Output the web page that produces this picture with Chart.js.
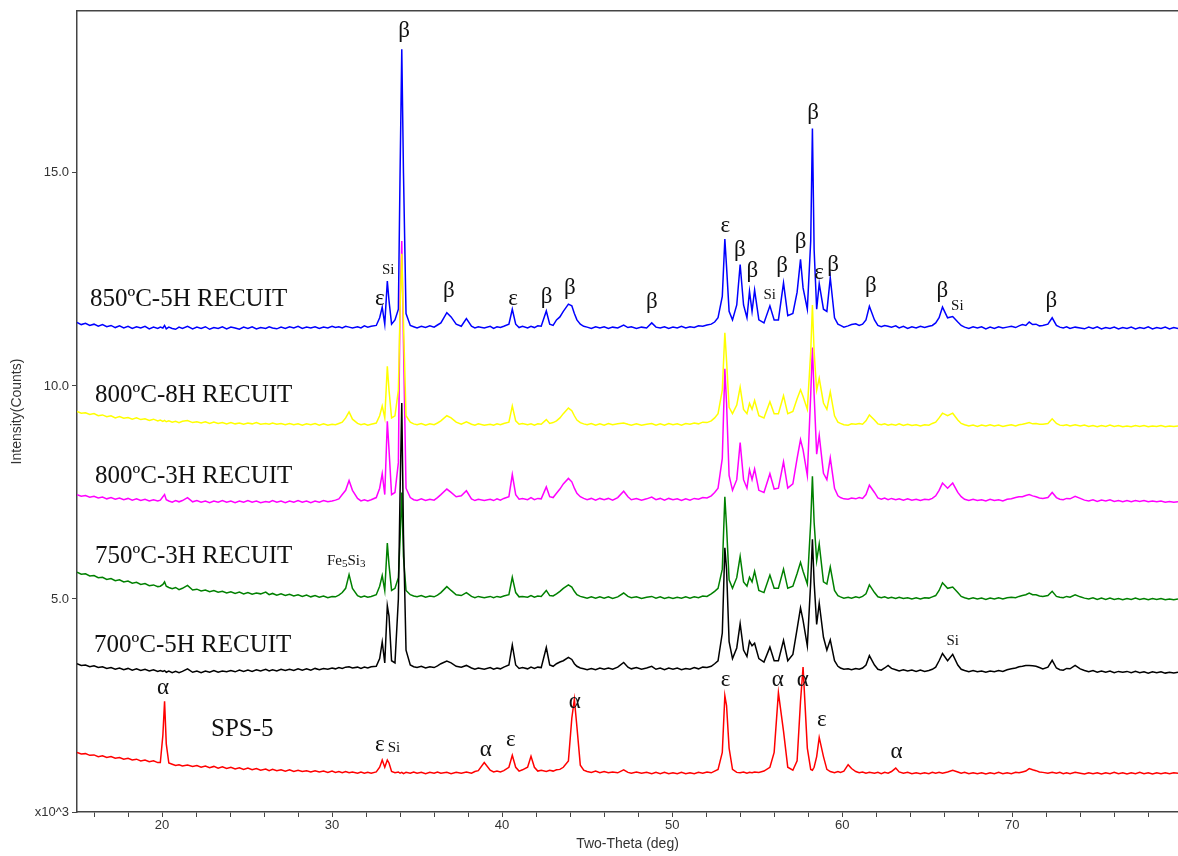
<!DOCTYPE html>
<html>
<head>
<meta charset="utf-8">
<script src="https://cdn.jsdelivr.net/npm/chart.js@4.4.0/dist/chart.umd.min.js"></script>
<style>
  html, body { margin: 0; padding: 0; background: #fff; }
</style>
</head>
<body>
<canvas id="xrd" width="1178" height="856"></canvas>
<script>
// 2-theta grid (deg), shared by all patterns
const twoTheta = [
  15, 15.25, 15.5, 15.75, 16, 16.25, 16.5, 16.75, 17, 17.25,
  17.5, 17.75, 18, 18.25, 18.5, 18.75, 19, 19.25, 19.5, 19.75,
  19.9, 20.05, 20.15, 20.25, 20.4, 20.6, 20.8, 21.0, 21.2, 21.5,
  21.8, 22.05, 22.3, 22.55, 22.8, 23.05, 23.3, 23.55, 23.8, 24.05,
  24.3, 24.55, 24.8, 25.05, 25.3, 25.55, 25.8, 26.1, 26.3, 26.5,
  26.75, 27, 27.25, 27.5, 27.75, 28, 28.25, 28.5, 28.75, 29,
  29.25, 29.5, 29.75, 30, 30.2, 30.4, 30.6, 30.8, 31.0, 31.2,
  31.5, 31.7, 31.9, 32.1, 32.3, 32.6, 32.8, 32.95, 33.1, 33.25,
  33.35, 33.5, 33.7, 33.9, 34.0, 34.1, 34.2, 34.35, 34.6, 34.8,
  35, 35.25, 35.5, 35.75, 36, 36.2, 36.4, 36.75, 37.0, 37.3,
  37.6, 37.9, 38.2, 38.4, 38.6, 38.95, 39.3, 39.5, 39.7, 39.9,
  40.1, 40.4, 40.6, 40.8, 41.0, 41.2, 41.5, 41.7, 41.9, 42.1,
  42.3, 42.6, 42.8, 43.0, 43.2, 43.4, 43.6, 43.9, 44.1, 44.25,
  44.4, 44.6, 44.8, 45, 45.25, 45.5, 45.75, 46, 46.25, 46.5,
  46.8, 47.15, 47.4, 47.6, 47.9, 48.2, 48.5, 48.8, 49.05, 49.3,
  49.55, 49.8, 50.05, 50.3, 50.55, 50.8, 51.05, 51.3, 51.55, 51.8,
  52.05, 52.3, 52.5, 52.7, 52.95, 53.1, 53.2, 53.35, 53.55, 53.8,
  54.0, 54.2, 54.4, 54.55, 54.7, 54.85, 55.1, 55.4, 55.75, 56.0,
  56.25, 56.55, 56.8, 57.1, 57.35, 57.55, 57.7, 57.95, 58.15, 58.25,
  58.35, 58.5, 58.65, 58.9, 59.1, 59.3, 59.55, 59.75, 59.9, 60.1,
  60.35, 60.55, 60.8, 61.0, 61.2, 61.4, 61.6, 61.9, 62.1, 62.3,
  62.5, 62.7, 62.9, 63.15, 63.35, 63.6, 63.85, 64.1, 64.35, 64.6,
  64.85, 65.1, 65.3, 65.5, 65.7, 65.9, 66.2, 66.5, 66.8, 67.0,
  67.2, 67.45, 67.7, 67.95, 68.2, 68.45, 68.7, 68.95, 69.2, 69.45,
  69.7, 69.95, 70.2, 70.4, 70.6, 70.8, 71.0, 71.2, 71.4, 71.6,
  71.8, 72.1, 72.35, 72.6, 72.8, 73.0, 73.2, 73.4, 73.7, 74.0,
  74.25, 74.5, 74.75, 75, 75.25, 75.5, 75.75, 76, 76.25, 76.5,
  76.75, 77, 77.25, 77.5, 77.75, 78, 78.25, 78.5, 78.75, 79,
  79.25, 79.5, 79.75
];

// intensities in counts x10^3 (patterns stacked, offsets included)
const recuit850_5h = [
  11.49, 11.44, 11.47, 11.42, 11.45, 11.40, 11.44, 11.39, 11.42, 11.37,
  11.41, 11.36, 11.40, 11.35, 11.39, 11.36, 11.40, 11.34, 11.38, 11.35,
  11.38, 11.36, 11.42, 11.34, 11.38, 11.35, 11.33, 11.38, 11.35, 11.40,
  11.34, 11.38, 11.35, 11.39, 11.33, 11.37, 11.35, 11.39, 11.34, 11.38,
  11.36, 11.33, 11.38, 11.35, 11.39, 11.34, 11.37, 11.35, 11.39, 11.36,
  11.34, 11.38, 11.35, 11.39, 11.36, 11.40, 11.35, 11.38, 11.36, 11.39,
  11.35, 11.38, 11.36, 11.40, 11.37, 11.39, 11.36, 11.40, 11.38, 11.36,
  11.39, 11.36, 11.41, 11.38, 11.40, 11.42, 11.60, 11.85, 11.45, 12.46,
  12.00, 11.45, 11.55, 11.80, 15.00, 17.90, 15.00, 11.70, 11.42, 11.39,
  11.36, 11.40, 11.37, 11.41, 11.38, 11.43, 11.48, 11.72, 11.62, 11.45,
  11.40, 11.58, 11.40, 11.36, 11.39, 11.36, 11.40, 11.35, 11.39, 11.37,
  11.40, 11.45, 11.80, 11.45, 11.37, 11.40, 11.36, 11.40, 11.37, 11.41,
  11.40, 11.76, 11.45, 11.42, 11.55, 11.62, 11.75, 11.92, 11.88, 11.70,
  11.55, 11.45, 11.40, 11.38, 11.35, 11.39, 11.36, 11.39, 11.35, 11.38,
  11.36, 11.43, 11.37, 11.39, 11.35, 11.38, 11.36, 11.48, 11.38, 11.36,
  11.39, 11.35, 11.38, 11.36, 11.40, 11.36, 11.39, 11.37, 11.41, 11.40,
  11.43, 11.45, 11.50, 11.60, 12.10, 13.45, 12.80, 11.75, 11.55, 11.90,
  12.85, 11.90, 11.60, 12.22, 11.75, 12.25, 11.55, 11.48, 11.88, 11.55,
  11.55, 12.42, 11.65, 11.70, 12.20, 12.97, 12.30, 11.80, 13.40, 16.04,
  13.20, 11.80, 12.40, 11.80, 11.75, 12.54, 11.60, 11.45, 11.42, 11.38,
  11.41, 11.44, 11.46, 11.42, 11.45, 11.55, 11.87, 11.55, 11.42, 11.39,
  11.42, 11.40, 11.38, 11.41, 11.36, 11.40, 11.35, 11.39, 11.36, 11.40,
  11.37, 11.40, 11.42, 11.48, 11.60, 11.85, 11.60, 11.63, 11.50, 11.42,
  11.38, 11.35, 11.39, 11.36, 11.39, 11.34, 11.38, 11.35, 11.39, 11.36,
  11.38, 11.40, 11.37, 11.41, 11.44, 11.42, 11.50, 11.44, 11.45, 11.41,
  11.42, 11.45, 11.60, 11.42, 11.38, 11.36, 11.39, 11.35, 11.38, 11.36,
  11.34, 11.38, 11.35, 11.39, 11.34, 11.37, 11.35, 11.38, 11.34, 11.37,
  11.35, 11.38, 11.34, 11.37, 11.35, 11.39, 11.34, 11.37, 11.35, 11.38,
  11.34, 11.37, 11.35
];

const recuit800_8h = [
  9.40, 9.36, 9.37, 9.33, 9.35, 9.30, 9.32, 9.28, 9.30, 9.25,
  9.28, 9.24, 9.26, 9.22, 9.25, 9.21, 9.23, 9.19, 9.22, 9.18,
  9.20, 9.17, 9.19, 9.16, 9.18, 9.15, 9.17, 9.14, 9.17, 9.19,
  9.14, 9.16, 9.13, 9.16, 9.12, 9.15, 9.12, 9.14, 9.11, 9.14,
  9.11, 9.13, 9.10, 9.13, 9.11, 9.14, 9.10, 9.12, 9.10, 9.13,
  9.10, 9.12, 9.09, 9.12, 9.09, 9.11, 9.08, 9.11, 9.09, 9.12,
  9.08, 9.11, 9.08, 9.10, 9.09, 9.12, 9.15, 9.25, 9.39, 9.22,
  9.12, 9.09, 9.11, 9.08, 9.10, 9.13, 9.30, 9.53, 9.25, 10.46,
  9.90, 9.25, 9.30, 9.90, 11.80, 13.10, 11.50, 9.30, 9.15, 9.11,
  9.09, 9.12, 9.08, 9.11, 9.09, 9.13, 9.18, 9.30, 9.25, 9.15,
  9.10, 9.16, 9.10, 9.08, 9.11, 9.08, 9.10, 9.08, 9.11, 9.09,
  9.12, 9.15, 9.53, 9.18, 9.10, 9.12, 9.09, 9.11, 9.08, 9.11,
  9.10, 9.21, 9.12, 9.14, 9.18, 9.25, 9.35, 9.48, 9.42, 9.30,
  9.20, 9.14, 9.11, 9.09, 9.12, 9.08, 9.11, 9.08, 9.12, 9.09,
  9.11, 9.13, 9.10, 9.08, 9.11, 9.08, 9.10, 9.12, 9.08, 9.11,
  9.08, 9.12, 9.09, 9.11, 9.08, 9.12, 9.10, 9.13, 9.11, 9.15,
  9.14, 9.18, 9.25, 9.35, 9.90, 11.25, 10.60, 9.50, 9.35, 9.55,
  9.97, 9.45, 9.35, 9.59, 9.45, 9.66, 9.30, 9.25, 9.63, 9.35,
  9.35, 9.77, 9.35, 9.40, 9.70, 9.91, 9.75, 9.45, 10.80, 11.90,
  10.80, 9.90, 10.18, 9.60, 9.45, 9.86, 9.30, 9.15, 9.12, 9.09,
  9.08, 9.11, 9.10, 9.12, 9.10, 9.18, 9.32, 9.20, 9.11, 9.09,
  9.11, 9.08, 9.10, 9.08, 9.11, 9.07, 9.10, 9.07, 9.09, 9.06,
  9.09, 9.08, 9.12, 9.15, 9.25, 9.36, 9.30, 9.36, 9.20, 9.12,
  9.09, 9.06, 9.08, 9.05, 9.08, 9.06, 9.09, 9.06, 9.08, 9.05,
  9.07, 9.09, 9.06, 9.09, 9.10, 9.12, 9.14, 9.11, 9.12, 9.10,
  9.10, 9.12, 9.23, 9.12, 9.08, 9.07, 9.09, 9.06, 9.09, 9.06,
  9.08, 9.05, 9.07, 9.04, 9.07, 9.05, 9.08, 9.05, 9.07, 9.04,
  9.06, 9.04, 9.07, 9.05, 9.07, 9.04, 9.06, 9.05, 9.07, 9.04,
  9.06, 9.05, 9.06
];

const recuit800_3h = [
  7.45, 7.41, 7.43, 7.39, 7.41, 7.37, 7.39, 7.35, 7.38, 7.34,
  7.37, 7.33, 7.36, 7.32, 7.35, 7.31, 7.34, 7.30, 7.33, 7.30,
  7.32, 7.40, 7.45, 7.33, 7.30, 7.27, 7.31, 7.28, 7.31, 7.38,
  7.28, 7.31, 7.27, 7.30, 7.26, 7.30, 7.27, 7.31, 7.27, 7.30,
  7.26, 7.30, 7.27, 7.31, 7.27, 7.30, 7.26, 7.29, 7.27, 7.31,
  7.27, 7.30, 7.26, 7.30, 7.27, 7.31, 7.27, 7.30, 7.26, 7.30,
  7.27, 7.31, 7.28, 7.30, 7.32, 7.35, 7.45, 7.55, 7.78, 7.55,
  7.36, 7.30, 7.33, 7.30, 7.33, 7.38, 7.60, 7.94, 7.45, 9.17,
  8.50, 7.45, 7.50, 8.20, 12.00, 13.40, 11.00, 7.60, 7.38, 7.33,
  7.31, 7.35, 7.31, 7.34, 7.32, 7.38, 7.45, 7.58, 7.50, 7.40,
  7.42, 7.54, 7.35, 7.31, 7.34, 7.31, 7.34, 7.31, 7.35, 7.32,
  7.36, 7.40, 7.92, 7.45, 7.34, 7.36, 7.33, 7.38, 7.33, 7.36,
  7.35, 7.63, 7.40, 7.38, 7.48, 7.58, 7.70, 7.83, 7.75, 7.60,
  7.48, 7.40, 7.36, 7.33, 7.36, 7.32, 7.36, 7.33, 7.36, 7.32,
  7.38, 7.53, 7.40, 7.33, 7.36, 7.32, 7.35, 7.39, 7.33, 7.36,
  7.32, 7.36, 7.33, 7.35, 7.31, 7.35, 7.32, 7.36, 7.34, 7.38,
  7.37, 7.42, 7.50, 7.60, 8.30, 10.40, 9.60, 7.90, 7.55, 7.80,
  8.67, 7.80, 7.60, 8.03, 7.80, 8.05, 7.55, 7.50, 7.94, 7.58,
  7.60, 8.22, 7.60, 7.70, 8.30, 8.74, 8.50, 7.90, 9.80, 10.90,
  9.80, 8.40, 8.84, 7.95, 7.80, 8.31, 7.60, 7.42, 7.38, 7.35,
  7.34, 7.37, 7.35, 7.38, 7.36, 7.45, 7.67, 7.50, 7.37, 7.34,
  7.37, 7.33, 7.36, 7.33, 7.35, 7.32, 7.35, 7.32, 7.34, 7.31,
  7.34, 7.33, 7.36, 7.42, 7.55, 7.72, 7.60, 7.72, 7.50, 7.40,
  7.34, 7.31, 7.34, 7.31, 7.33, 7.30, 7.34, 7.31, 7.33, 7.30,
  7.34, 7.35, 7.38, 7.40, 7.40, 7.43, 7.45, 7.42, 7.40, 7.37,
  7.36, 7.38, 7.50, 7.38, 7.34, 7.33, 7.36, 7.35, 7.41, 7.36,
  7.32, 7.30, 7.33, 7.29, 7.32, 7.30, 7.33, 7.29, 7.31, 7.28,
  7.31, 7.28, 7.31, 7.29, 7.31, 7.28, 7.30, 7.28, 7.30, 7.27,
  7.29, 7.27, 7.28
];

const recuit750_3h = [
  5.63, 5.58, 5.59, 5.54, 5.55, 5.50, 5.51, 5.46, 5.48, 5.43,
  5.45, 5.40, 5.42, 5.37, 5.39, 5.34, 5.36, 5.31, 5.33, 5.29,
  5.30, 5.34, 5.40, 5.30, 5.27, 5.24, 5.27, 5.22, 5.25, 5.32,
  5.21, 5.23, 5.19, 5.21, 5.17, 5.20, 5.16, 5.18, 5.14, 5.17,
  5.13, 5.16, 5.12, 5.15, 5.11, 5.14, 5.12, 5.16, 5.10, 5.13,
  5.09, 5.12, 5.08, 5.11, 5.07, 5.10, 5.06, 5.09, 5.05, 5.08,
  5.04, 5.07, 5.03, 5.06, 5.05, 5.09, 5.15, 5.25, 5.57, 5.25,
  5.08, 5.04, 5.07, 5.04, 5.06, 5.10, 5.30, 5.55, 5.20, 6.31,
  5.80, 5.20, 5.25, 5.50, 6.40, 7.50, 6.00, 5.20, 5.10, 5.07,
  5.05, 5.08, 5.04, 5.07, 5.05, 5.09, 5.15, 5.29, 5.20, 5.10,
  5.08, 5.15, 5.06, 5.03, 5.06, 5.03, 5.06, 5.03, 5.06, 5.04,
  5.07, 5.10, 5.51, 5.15, 5.05, 5.06, 5.04, 5.08, 5.04, 5.07,
  5.06, 5.20, 5.08, 5.07, 5.12, 5.18, 5.25, 5.33, 5.28, 5.18,
  5.10, 5.06, 5.04, 5.02, 5.05, 5.02, 5.05, 5.02, 5.05, 5.01,
  5.05, 5.14, 5.06, 5.03, 5.05, 5.01, 5.04, 5.06, 5.02, 5.05,
  5.01, 5.04, 5.01, 5.04, 5.02, 5.05, 5.02, 5.05, 5.03, 5.07,
  5.06, 5.12, 5.18, 5.25, 5.70, 7.40, 6.70, 5.45, 5.25, 5.50,
  6.00, 5.40, 5.30, 5.51, 5.40, 5.65, 5.20, 5.15, 5.56, 5.25,
  5.25, 5.70, 5.25, 5.30, 5.60, 5.86, 5.65, 5.35, 6.80, 7.88,
  6.80, 5.90, 6.29, 5.40, 5.35, 5.75, 5.20, 5.08, 5.05, 5.02,
  5.04, 5.02, 5.05, 5.03, 5.06, 5.12, 5.33, 5.15, 5.05, 5.03,
  5.05, 5.02, 5.04, 5.01, 5.04, 5.01, 5.03, 5.00, 5.03, 5.00,
  5.03, 5.02, 5.05, 5.08, 5.20, 5.38, 5.25, 5.28, 5.15, 5.06,
  5.03, 5.00, 5.03, 5.00, 5.02, 4.99, 5.02, 5.00, 5.03, 5.00,
  5.03, 5.04, 5.03, 5.06, 5.08, 5.10, 5.14, 5.10, 5.10, 5.07,
  5.06, 5.08, 5.18, 5.06, 5.04, 5.03, 5.06, 5.04, 5.10, 5.05,
  5.02, 5.00, 5.03, 4.99, 5.02, 4.99, 5.02, 4.99, 5.01, 4.98,
  5.01, 4.99, 5.02, 4.99, 5.01, 4.98, 5.01, 4.99, 5.01, 4.98,
  5.00, 4.98, 5.00
];

const recuit700_5h = [
  3.48, 3.44, 3.45, 3.41, 3.43, 3.39, 3.41, 3.37, 3.39, 3.35,
  3.38, 3.34, 3.37, 3.33, 3.36, 3.32, 3.35, 3.31, 3.34, 3.30,
  3.32, 3.30, 3.32, 3.28, 3.31, 3.27, 3.30, 3.27, 3.30, 3.36,
  3.28, 3.31, 3.27, 3.31, 3.28, 3.32, 3.28, 3.31, 3.29, 3.32,
  3.29, 3.33, 3.30, 3.33, 3.30, 3.34, 3.31, 3.35, 3.31, 3.34,
  3.31, 3.35, 3.32, 3.35, 3.32, 3.36, 3.33, 3.36, 3.33, 3.37,
  3.34, 3.37, 3.35, 3.38, 3.36, 3.39, 3.37, 3.40, 3.41, 3.38,
  3.40, 3.37, 3.40, 3.38, 3.41, 3.42, 3.60, 3.99, 3.50, 4.84,
  4.60, 3.55, 3.50, 5.00, 7.50, 9.60, 6.50, 3.80, 3.45, 3.41,
  3.39, 3.42, 3.38, 3.41, 3.39, 3.43, 3.48, 3.54, 3.50, 3.42,
  3.40, 3.44, 3.38, 3.35, 3.38, 3.35, 3.39, 3.35, 3.38, 3.36,
  3.40, 3.45, 3.92, 3.45, 3.37, 3.39, 3.36, 3.40, 3.37, 3.40,
  3.39, 3.86, 3.45, 3.42, 3.48, 3.52, 3.55, 3.63, 3.58, 3.48,
  3.42, 3.38, 3.36, 3.34, 3.37, 3.34, 3.38, 3.35, 3.38, 3.35,
  3.40, 3.51, 3.40, 3.36, 3.39, 3.35, 3.38, 3.42, 3.35, 3.38,
  3.34, 3.38, 3.35, 3.38, 3.34, 3.37, 3.35, 3.39, 3.36, 3.40,
  3.39, 3.42, 3.48, 3.55, 4.20, 6.20, 5.70, 4.00, 3.60, 3.85,
  4.42, 3.80, 3.65, 4.01, 3.90, 3.96, 3.60, 3.52, 3.87, 3.55,
  3.55, 4.03, 3.55, 3.70, 4.30, 4.79, 4.50, 3.90, 5.40, 6.40,
  5.40, 4.40, 4.90, 4.10, 3.80, 4.04, 3.55, 3.42, 3.38, 3.35,
  3.36, 3.34, 3.37, 3.35, 3.38, 3.45, 3.67, 3.45, 3.35, 3.33,
  3.38, 3.44, 3.37, 3.34, 3.31, 3.34, 3.31, 3.33, 3.30, 3.33,
  3.30, 3.32, 3.35, 3.40, 3.55, 3.72, 3.55, 3.70, 3.45, 3.35,
  3.32, 3.29, 3.32, 3.29, 3.31, 3.28, 3.31, 3.29, 3.32, 3.30,
  3.34, 3.36, 3.38, 3.41, 3.42, 3.44, 3.44, 3.43, 3.42, 3.39,
  3.36, 3.40, 3.56, 3.38, 3.34, 3.33, 3.37, 3.36, 3.44, 3.36,
  3.32, 3.29, 3.32, 3.28, 3.31, 3.28, 3.31, 3.27, 3.30, 3.28,
  3.30, 3.27, 3.30, 3.27, 3.29, 3.26, 3.29, 3.27, 3.29, 3.26,
  3.28, 3.26, 3.28
];

const sps5 = [
  1.40, 1.36, 1.37, 1.33, 1.34, 1.30, 1.32, 1.28, 1.30, 1.26,
  1.28, 1.24, 1.26, 1.22, 1.24, 1.20, 1.22, 1.18, 1.20, 1.16,
  1.16, 1.80, 2.60, 1.60, 1.15, 1.12, 1.09, 1.11, 1.08, 1.10,
  1.07, 1.09, 1.05, 1.08, 1.04, 1.07, 1.03, 1.06, 1.02, 1.05,
  1.01, 1.04, 1.00, 1.03, 0.99, 1.02, 0.98, 1.01, 0.97, 1.00,
  0.97, 0.99, 0.96, 0.99, 0.95, 0.98, 0.95, 0.97, 0.94, 0.97,
  0.94, 0.96, 0.93, 0.96, 0.93, 0.95, 0.92, 0.95, 0.92, 0.94,
  0.91, 0.94, 0.91, 0.93, 0.91, 0.94, 1.05, 1.22, 1.05, 1.22,
  1.15, 0.95, 0.92, 0.94, 0.91, 0.93, 0.90, 0.93, 0.91, 0.94,
  0.91, 0.93, 0.90, 0.93, 0.91, 0.94, 0.91, 0.93, 0.90, 0.93,
  0.91, 0.94, 0.91, 0.95, 0.97, 1.16, 0.98, 0.94, 0.96, 0.94,
  0.97, 1.05, 1.33, 1.05, 0.96, 0.99, 1.05, 1.31, 1.05, 0.96,
  0.98, 0.95, 0.98, 0.96, 0.99, 1.00, 1.05, 1.20, 2.20, 2.65,
  2.00, 1.10, 0.98, 0.95, 0.93, 0.96, 0.92, 0.95, 0.92, 0.94,
  0.92, 0.99, 0.93, 0.91, 0.94, 0.91, 0.93, 0.90, 0.93, 0.90,
  0.93, 0.90, 0.92, 0.90, 0.93, 0.90, 0.92, 0.90, 0.93, 0.91,
  0.94, 0.92, 0.96, 1.00, 1.40, 2.73, 2.50, 1.50, 1.00, 0.93,
  0.92, 0.94, 0.91, 0.93, 0.92, 0.94, 0.93, 0.96, 1.05, 1.40,
  2.80, 1.90, 1.05, 0.98, 1.20, 2.60, 3.40, 1.50, 1.00, 0.98,
  1.05, 1.30, 1.75, 1.30, 1.00, 0.95, 0.92, 0.95, 0.93, 0.96,
  1.11, 1.02, 0.95, 0.92, 0.94, 0.91, 0.93, 0.91, 0.93, 0.90,
  0.93, 0.91, 0.95, 1.03, 0.94, 0.91, 0.93, 0.90, 0.92, 0.90,
  0.92, 0.90, 0.93, 0.91, 0.93, 0.91, 0.94, 0.98, 0.94, 0.91,
  0.93, 0.90, 0.92, 0.90, 0.92, 0.89, 0.92, 0.90, 0.93, 0.90,
  0.92, 0.90, 0.93, 0.92, 0.94, 0.96, 1.02, 0.99, 0.97, 0.94,
  0.93, 0.91, 0.93, 0.91, 0.93, 0.90, 0.92, 0.90, 0.93, 0.91,
  0.89, 0.92, 0.90, 0.92, 0.89, 0.92, 0.90, 0.93, 0.90, 0.92,
  0.89, 0.92, 0.90, 0.93, 0.90, 0.92, 0.89, 0.92, 0.90, 0.92,
  0.90, 0.92, 0.91
];

const sampleNames = ['850ºC-5H RECUIT', '800ºC-8H RECUIT', '800ºC-3H RECUIT',
                     '750ºC-3H RECUIT', '700ºC-5H RECUIT', 'SPS-5'];

// phase marks: [2theta, level, text]
const phaseMarks = [
  [34.24, 18.33, 'β'], [32.81, 12.04, 'ε'], [36.87, 12.22, 'β'], [40.65, 12.03, 'ε'],
  [42.61, 12.08, 'β'], [43.98, 12.30, 'β'], [48.80, 11.98, 'β'], [53.13, 13.75, 'ε'],
  [53.98, 13.20, 'β'], [54.72, 12.69, 'β'], [56.47, 12.81, 'β'], [57.56, 13.38, 'β'],
  [58.29, 16.41, 'β'], [58.64, 12.65, 'ε'], [59.46, 12.85, 'β'], [61.68, 12.34, 'β'],
  [65.89, 12.22, 'β'], [72.30, 11.99, 'β'],
  [20.06, 2.91, 'α'], [32.81, 1.57, 'ε'], [39.04, 1.46, 'α'], [40.51, 1.69, 'ε'],
  [44.28, 2.58, 'α'], [53.15, 3.10, 'ε'], [56.21, 3.10, 'α'], [57.68, 3.10, 'α'],
  [58.80, 2.16, 'ε'], [63.20, 1.41, 'α']
];
const siMarks = [[33.30, 12.73], [55.74, 12.14], [66.77, 11.87], [33.64, 1.50], [66.50, 4.02]];

function points(values) {
  return values.map((v, i) => ({ x: twoTheta[i], y: v }));
}

const serif = '"Liberation Serif", "Times New Roman", serif';
const sans = '"Liberation Sans", Arial, sans-serif';

const markPlugin = {
  id: 'markPlugin',
  afterDatasetsDraw(chart) {
    const { ctx, scales: { x, y } } = chart;
    ctx.save();
    ctx.fillStyle = '#111';
    ctx.textBaseline = 'middle';
    ctx.textAlign = 'center';
    ctx.font = '23px ' + serif;
    phaseMarks.forEach(([t, v, s]) => ctx.fillText(s, x.getPixelForValue(t), y.getPixelForValue(v)));
    ctx.font = '15px ' + serif;
    siMarks.forEach(([t, v]) => ctx.fillText('Si', x.getPixelForValue(t), y.getPixelForValue(v)));

    // sample names
    const nameAt = [[15.76, 12.03], [16.06, 9.77], [16.06, 7.87], [16.06, 5.99], [16.0, 3.91], [22.88, 1.93]];
    ctx.textAlign = 'left';
    ctx.font = '25px ' + serif;
    sampleNames.forEach((n, i) => ctx.fillText(n, x.getPixelForValue(nameAt[i][0]), y.getPixelForValue(nameAt[i][1])));

    // Fe5Si3 with subscripts
    let px = x.getPixelForValue(29.7);
    const py = y.getPixelForValue(5.9);
    [['Fe', 15, 0], ['5', 11, 3], ['Si', 15, 0], ['3', 11, 3]].forEach(([s, size, dy]) => {
      ctx.font = size + 'px ' + serif;
      ctx.fillText(s, px, py + dy);
      px += ctx.measureText(s).width;
    });
    ctx.restore();
  }
};

const tickFont = { family: sans, size: 13 };
const axisColor = '#444';

new Chart(document.getElementById('xrd'), {
  type: 'line',
  data: {
    datasets: [
      { label: sampleNames[5], data: points(sps5), borderColor: '#ff0000' },
      { label: sampleNames[4], data: points(recuit700_5h), borderColor: '#000000' },
      { label: sampleNames[3], data: points(recuit750_3h), borderColor: '#008000' },
      { label: sampleNames[1], data: points(recuit800_8h), borderColor: '#ffff00' },
      { label: sampleNames[2], data: points(recuit800_3h), borderColor: '#ff00ff' },
      { label: sampleNames[0], data: points(recuit850_5h), borderColor: '#0000ff' }
    ]
  },
  options: {
    responsive: false,
    animation: false,
    devicePixelRatio: 1,
    layout: { padding: { top: 11, right: 0, left: 0, bottom: 0 } },
    elements: {
      point: { radius: 0 },
      line: { borderWidth: 1.5, tension: 0, fill: false }
    },
    plugins: {
      legend: { display: false },
      tooltip: { enabled: false }
    },
    scales: {
      x: {
        type: 'linear',
        min: 15,
        max: 79.75,
        ticks: {
          stepSize: 2,
          includeBounds: false,
          autoSkip: false,
          maxRotation: 0,
          padding: 1,
          color: '#333',
          font: tickFont,
          callback: v => (v % 10 === 0 ? String(v) : '')
        },
        grid: { display: true, drawOnChartArea: false, tickLength: 5, color: axisColor },
        border: { color: axisColor, width: 1.5 },
        title: {
          display: true,
          text: 'Two-Theta (deg)',
          color: '#333',
          font: { family: sans, size: 14 },
          padding: { top: 0, bottom: 3 }
        },
        afterFit: s => { s.height = 44; }
      },
      xTop: {
        type: 'linear',
        position: 'top',
        min: 15,
        max: 79.75,
        ticks: { display: false },
        grid: { display: false },
        border: { color: axisColor, width: 1.5 },
        afterFit: s => { s.height = 0; }
      },
      y: {
        min: 0,
        max: 18.8,
        ticks: {
          stepSize: 5,
          includeBounds: false,
          padding: 3,
          color: '#333',
          font: tickFont,
          callback: v => (v === 0 ? 'x10^3' : v.toFixed(1))
        },
        grid: { display: true, drawOnChartArea: false, tickLength: 5, color: axisColor },
        border: { color: axisColor, width: 1.5 },
        title: {
          display: true,
          text: 'Intensity(Counts)',
          color: '#333',
          font: { family: sans, size: 14 },
          padding: { top: 9, bottom: 0 }
        },
        afterFit: s => { s.width = 77; }
      }
    }
  },
  plugins: [markPlugin]
});
</script>
</body>
</html>
